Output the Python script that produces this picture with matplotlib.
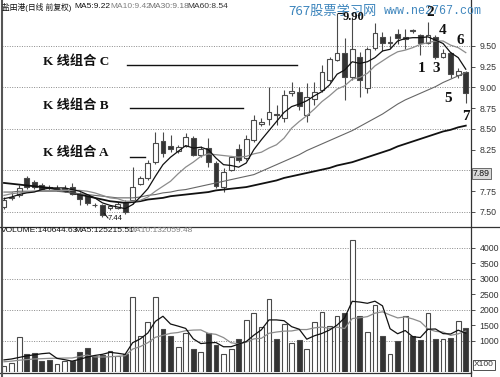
import matplotlib
matplotlib.use("Agg")
import matplotlib.pyplot as plt
from matplotlib.patches import Rectangle
from matplotlib.lines import Line2D

# daily candles, oldest first
opens = [7.56, 7.67, 7.70, 7.91, 7.86, 7.83, 7.80, 7.78, 7.78, 7.80,
         7.72, 7.69, 7.59, 7.58, 7.55, 7.55, 7.61, 7.64, 7.84, 7.91,
         8.10, 8.36, 8.30, 8.24, 8.30, 8.39, 8.19, 8.27, 8.09, 7.80,
         8.01, 8.26, 8.15, 8.37, 8.56, 8.62, 8.68, 8.63, 8.93, 8.95,
         8.67, 8.86, 8.97, 9.09, 9.33, 9.42, 9.13, 9.37, 8.99, 9.48,
         9.61, 9.54, 9.64, 9.58, 9.69, 9.63, 9.54, 9.61, 9.37, 9.42,
         9.15, 9.19]
highs = [7.68, 7.74, 7.82, 7.93, 7.88, 7.85, 7.83, 7.82, 7.83, 7.85,
         7.74, 7.71, 7.61, 7.60, 7.59, 7.62, 7.64, 8.04, 7.93, 8.13,
         8.46, 8.46, 8.43, 8.31, 8.45, 8.41, 8.29, 8.39, 8.11, 8.03,
         8.18, 8.32, 8.43, 8.67, 8.63, 9.01, 8.79, 8.97, 9.07, 9.00,
         9.05, 9.07, 9.27, 9.37, 9.90, 9.60, 9.85, 9.43, 9.49, 9.78,
         9.67, 9.62, 9.70, 9.70, 9.71, 9.65, 9.79, 9.63, 9.46, 9.43,
         9.24, 9.20]
lows = [7.53, 7.64, 7.68, 7.78, 7.78, 7.76, 7.76, 7.75, 7.74, 7.70,
        7.58, 7.59, 7.56, 7.44, 7.52, 7.53, 7.47, 7.60, 7.82, 7.88,
        8.08, 8.16, 8.22, 8.21, 8.28, 8.17, 8.16, 8.04, 7.79, 7.74,
        7.99, 8.10, 8.13, 8.34, 8.53, 8.55, 8.55, 8.59, 8.90, 8.73,
        8.58, 8.79, 8.95, 9.06, 9.32, 8.85, 9.09, 8.89, 8.93, 9.45,
        9.44, 9.47, 9.52, 9.46, 9.66, 9.39, 9.52, 9.34, 9.35, 9.12,
        9.12, 8.81]
closes = [7.64, 7.68, 7.79, 7.80, 7.80, 7.78, 7.79, 7.78, 7.79, 7.72,
          7.66, 7.61, 7.58, 7.46, 7.57, 7.60, 7.50, 7.80, 7.91, 8.09,
          8.33, 8.21, 8.26, 8.28, 8.40, 8.19, 8.26, 8.10, 7.81, 7.98,
          8.16, 8.13, 8.38, 8.61, 8.59, 8.70, 8.67, 8.91, 8.96, 8.78,
          8.89, 8.95, 9.19, 9.34, 9.42, 9.13, 9.46, 9.09, 9.46, 9.66,
          9.54, 9.55, 9.60, 9.61, 9.68, 9.54, 9.63, 9.37, 9.42, 9.16,
          9.20, 8.93]

ma5 = [7.66, 7.68, 7.71, 7.73, 7.74, 7.77, 7.79, 7.79, 7.79, 7.77,
       7.75, 7.71, 7.67, 7.61, 7.58, 7.56, 7.54, 7.59, 7.68, 7.78,
       7.93, 8.07, 8.16, 8.23, 8.30, 8.27, 8.28, 8.25, 8.15, 8.07,
       8.06, 8.04, 8.09, 8.25, 8.37, 8.48, 8.59, 8.70, 8.77, 8.80,
       8.84, 8.90, 8.95, 9.03, 9.16, 9.21, 9.31, 9.29, 9.31, 9.36,
       9.44, 9.46, 9.56, 9.59, 9.60, 9.60, 9.61, 9.57, 9.53, 9.42,
       9.36, 9.22]
ma10 = [7.70, 7.72, 7.73, 7.74, 7.75, 7.76, 7.76, 7.76, 7.76, 7.76,
        7.76, 7.75, 7.73, 7.70, 7.67, 7.66, 7.63, 7.63, 7.64, 7.68,
        7.75, 7.81, 7.87, 7.96, 8.04, 8.10, 8.17, 8.20, 8.19, 8.18,
        8.17, 8.16, 8.17, 8.20, 8.22, 8.27, 8.31, 8.39, 8.51, 8.59,
        8.66, 8.74, 8.83, 8.90, 8.98, 9.02, 9.10, 9.12, 9.17, 9.26,
        9.32, 9.38, 9.43, 9.45, 9.48, 9.52, 9.54, 9.56, 9.56, 9.51,
        9.48, 9.42]
ma30 = [7.74, 7.74, 7.75, 7.75, 7.75, 7.75, 7.75, 7.75, 7.74, 7.73,
        7.72, 7.71, 7.70, 7.69, 7.68, 7.67, 7.67, 7.67, 7.68, 7.70,
        7.71, 7.73, 7.74, 7.76, 7.77, 7.79, 7.81, 7.83, 7.85, 7.87,
        7.89, 7.91, 7.93, 7.95, 7.99, 8.03, 8.07, 8.11, 8.15, 8.19,
        8.24, 8.28, 8.32, 8.36, 8.40, 8.44, 8.48, 8.53, 8.58, 8.63,
        8.68, 8.74, 8.80, 8.85, 8.89, 8.93, 8.97, 9.01, 9.06, 9.10,
        9.14, 9.18]
ma60 = [7.85, 7.84, 7.83, 7.82, 7.81, 7.80, 7.79, 7.77, 7.75, 7.73,
        7.71, 7.69, 7.67, 7.65, 7.63, 7.62, 7.61, 7.62, 7.63, 7.65,
        7.66, 7.67, 7.69, 7.70, 7.71, 7.72, 7.73, 7.74, 7.76, 7.77,
        7.78, 7.79, 7.80, 7.82, 7.84, 7.86, 7.88, 7.91, 7.93, 7.95,
        7.97, 7.99, 8.01, 8.03, 8.06, 8.08, 8.10, 8.13, 8.16, 8.19,
        8.22, 8.25, 8.29, 8.32, 8.35, 8.38, 8.41, 8.44, 8.47, 8.49,
        8.52, 8.54]

# volume in units of 100 shares
volumes = [190, 280, 1120, 580, 600, 370, 390, 260, 370, 360,
           660, 760, 520, 550, 680, 520, 570, 2410, 1160, 1620,
           2410, 1390, 1160, 820, 1250, 730, 630, 1270, 870, 570,
           740, 1050, 1680, 1890, 1440, 2340, 1050, 1550, 930, 1030,
           730, 1600, 1930, 1480, 1820, 1910, 4260, 1810, 1280, 2160,
           1160, 570, 1000, 1800, 1160, 1030, 1900, 1050, 1050, 1100,
           1650, 1410]
vol_ma5 = [390, 420, 470, 520, 554, 590, 612, 440, 398, 350,
           408, 482, 534, 570, 634, 606, 568, 946, 1068, 1256,
           1634, 1798, 1548, 1480, 1406, 1070, 918, 940, 950, 814,
           816, 900, 982, 1186, 1360, 1680, 1680, 1654, 1462, 1380,
           1058, 1168, 1244, 1354, 1512, 1748, 2280, 2256, 2216, 2284,
           2134, 1396, 1234, 1338, 1138, 1112, 1378, 1388, 1238, 1226,
           1350, 1252]
vol_ma10 = [330, 350, 380, 400, 420, 430, 440, 445, 450, 452,
            499, 547, 487, 484, 492, 507, 525, 740, 819, 945,
            1120, 1183, 1247, 1274, 1331, 1352, 1358, 1244, 1215, 1110,
            943, 909, 961, 1068, 1087, 1248, 1290, 1318, 1324, 1370,
            1369, 1424, 1449, 1408, 1446, 1403, 1724, 1750, 1785, 1898,
            1941, 1838, 1745, 1777, 1711, 1623, 1387, 1311, 1288, 1182,
            1231, 1321]

price_ticks = [7.50, 7.75, 8.00, 8.25, 8.50, 8.75, 9.00, 9.25, 9.50]
price_labels = ["7.50", "7.75", "", "8.25", "8.50", "8.75", "9.00", "9.25", "9.50"]
vol_ticks = [1000, 1500, 2000, 2500, 3000, 3500, 4000]

W, H = 500, 377
DARK = "#333333"
EDGE = "#4a4a4a"
GRID = "#8a8a8a"
BLUE = "#3f86bd"
SERIF = ["Liberation Serif", "Noto Sans CJK SC"]
SANS = ["Liberation Sans", "Noto Sans CJK SC"]


def main() -> None:
    plt.rcParams["font.family"] = SANS
    fig = plt.figure(figsize=(W / 100, H / 100), dpi=100)

    def box(x0, y0, x1, y1):
        return fig.add_axes([x0 / W, 1 - y1 / H, (x1 - x0) / W, (y1 - y0) / H])

    def ftxt(x, y, s, **kw):
        kw.setdefault("va", "center")
        return fig.text(x / W, 1 - y / H, s, **kw)

    def fline(xs, ys, **kw):
        fig.add_artist(Line2D([x / W for x in xs], [1 - y / H for y in ys], **kw))

    ax = box(2, 0, 471, 226)
    axv = box(2, 227, 471, 372)
    n = len(closes)
    xs = list(range(n))

    for a in (ax, axv):
        a.set_xlim(-0.26, 61.69)
        a.set_xticks([])
        for s in ("top", "left", "bottom"):
            a.spines[s].set_visible(False)
        a.spines["right"].set_color(DARK)
        a.spines["right"].set_linewidth(0.9)
        a.yaxis.tick_right()
        a.tick_params(axis="y", length=3, width=0.6, color=DARK,
                      labelsize=6.3, labelcolor="#333333", pad=3)

    # ---- price panel ----
    ax.set_ylim(7.331, 10.054)
    for g in (7.5, 8.0, 8.5, 9.0, 9.5):
        ax.axhline(g, color=GRID, lw=0.7, ls=(0, (1, 1.5)), zorder=0)
    ax.set_yticks(price_ticks)
    ax.set_yticklabels(price_labels)

    bw = 0.64
    for i in xs:
        o, h, l, c = opens[i], highs[i], lows[i], closes[i]
        up = c >= o
        ax.vlines(i, l, h, color=EDGE, lw=0.8, zorder=2)
        body = max(abs(c - o), 0.008)
        ax.add_patch(Rectangle((i - bw / 2, min(o, c)), bw, body,
                               facecolor="white" if up else DARK,
                               edgecolor=EDGE, lw=0.8, zorder=3))

    ax.plot(xs, ma60, color="#111111", lw=1.3, zorder=4)
    ax.plot(xs, ma30, color="#666666", lw=0.8, zorder=4)
    ax.plot(xs, ma10, color="#8c8c8c", lw=0.9, zorder=4)
    ax.plot(xs, ma5, color="#111111", lw=0.9, zorder=4)

    # ---- volume panel ----
    axv.set_ylim(0, 4677)
    for g in (1000, 2000, 3000, 4000):
        axv.axhline(g, color=GRID, lw=0.7, ls=(0, (1, 1.5)), zorder=0)
    axv.set_yticks(vol_ticks)
    axv.set_yticklabels([str(t) for t in vol_ticks])
    for i in xs:
        up = closes[i] >= opens[i]
        axv.bar(i, volumes[i], width=bw, facecolor="white" if up else DARK,
                edgecolor=EDGE, lw=0.8, zorder=3)
    axv.plot(xs, vol_ma10, color="#8c8c8c", lw=0.9, zorder=4)
    axv.plot(xs, vol_ma5, color="#111111", lw=0.9, zorder=4)

    # frame lines
    fline([0, 500], [226.5, 226.5], color=DARK, lw=0.9)
    fline([0, 471], [372.5, 372.5], color=DARK, lw=0.9)
    fline([1.5, 1.5], [0, 377], color="#555555", lw=1.5)
    fline([471.3, 471.3], [372, 377], color=DARK, lw=0.9)

    # headers
    ftxt(2, 7, "盐田港(日线 前复权)", fontsize=5.6, color="#111111")
    ftxt(74, 7, "MA5:9.22", fontsize=6, color="#111111")
    ftxt(110, 7, "MA10:9.42", fontsize=6, color="#808080")
    ftxt(148, 7, "MA30:9.18", fontsize=6, color="#707070")
    ftxt(187, 7, "MA60:8.54", fontsize=6, color="#333333")
    ftxt(1, 231, "VOLUME:140644.63", fontsize=6, color="#111111")
    ftxt(74, 231, "MA5:125215.51", fontsize=6, color="#111111")
    ftxt(128, 231, "MA10:132059.48", fontsize=6, color="#808080")
    ftxt(2, 381.5, "KDJ   K:8.69  D:9.19  J:8.69", fontsize=6, color="#333333")

    # watermark
    ftxt(288, 11, "767股票学习网", fontsize=9.5, color=BLUE,
         family=["Noto Sans CJK SC", "DejaVu Sans"])
    ftxt(384, 11, "www.ne2767.com", fontsize=8.4, color=BLUE,
         family=["Liberation Mono", "DejaVu Sans Mono"])

    # current price marker and x100 box
    ftxt(473, 173.5, "7.89", fontsize=6.3, color="#111111",
         bbox=dict(boxstyle="square,pad=0.15", fc="#d9d9d9", ec="#555555", lw=0.6))
    ftxt(474, 365, "X100", fontsize=6, color="#333333",
         bbox=dict(boxstyle="square,pad=0.15", fc="white", ec="#333333", lw=0.6))

    # pattern annotations
    for label, y in (("K 线组合 C", 62), ("K 线组合 B", 106), ("K 线组合 A", 153)):
        ftxt(43, y, label, fontsize=9.5, fontweight="bold", color="#111111",
             family=SERIF)
    fline([127, 297], [65, 65], color="#111111", lw=1.0)
    fline([130, 243], [108, 108], color="#111111", lw=1.0)
    fline([130, 145], [157, 157], color="#111111", lw=1.0)

    for num, x, y in (("1", 422, 68), ("2", 430, 12), ("3", 436, 68),
                      ("4", 443, 30), ("5", 448, 99), ("6", 460, 41),
                      ("7", 466, 117)):
        ftxt(x, y, num, fontsize=11, fontweight="bold", color="#111111",
             family=SERIF, ha="center")

    fline([338, 344], [13, 13], color="#111111", lw=0.8)
    ftxt(343, 17, "9.90", fontsize=9, fontweight="bold", color="#111111",
         family=SERIF)
    fline([104, 108], [213, 218], color="#111111", lw=0.7)
    ftxt(108, 218, "7.44", fontsize=5.5, color="#111111")

    fig.savefig("out.png", dpi=100)
    plt.close(fig)


if __name__ == "__main__":
    main()
